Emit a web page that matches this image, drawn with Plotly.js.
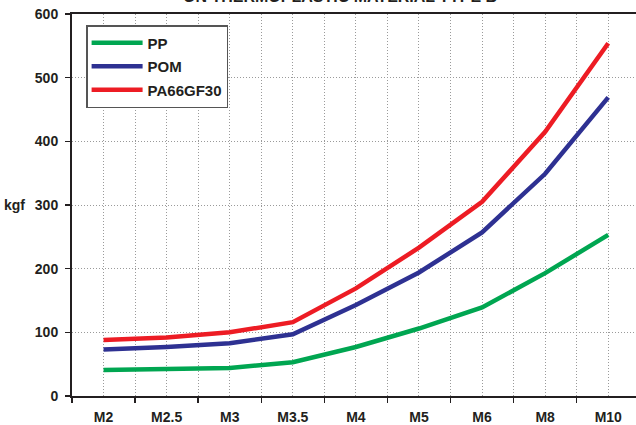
<!DOCTYPE html>
<html>
<head>
<meta charset="utf-8">
<script src="https://cdn.plot.ly/plotly-3.0.1.min.js"></script>
<style>html,body{margin:0;padding:0;background:#fff;}#chart{width:636px;height:425px;}</style>
</head>
<body>
<div id="chart"></div>
<script>
const categories = ["M2", "M2.5", "M3", "M3.5", "M4", "M5", "M6", "M8", "M10"];
const ppValues = [41, 42, 44, 53, 77, 106, 139, 193, 253];
const pomValues = [73, 77, 83, 97, 143, 194, 257, 349, 469];
const pa66Values = [88, 92, 100, 116, 169, 233, 305, 415, 554];
const yTicks = [0, 100, 200, 300, 400, 500, 600];
const chartTitle = "ON THERMOPLASTIC MATERIAL TYPE B";

const idx = categories.map((c, i) => i);
const bounds = categories.map((c, i) => i - 0.5);
const font = {family: "Liberation Sans, Arial, sans-serif", size: 14, color: "#231f20"};

function tr(name, vals, color, g) {
  return {x: idx, y: vals, name: name, type: "scatter", mode: "lines",
    line: {color: color, width: 4.5}, legendgroup: g,
    hovertemplate: "%{text}: %{y}<extra>" + name + "</extra>", text: categories};
}

const data = [
  tr("PP", ppValues, "#00a651", "a"),
  tr("POM", pomValues, "#2e3192", "b"),
  tr("PA66GF30", pa66Values, "#ed1c24", "c")
];

const gridStyle = {gridcolor: "#9a9a9a", griddash: "1px,2px", gridwidth: 1};

const layout = {
  width: 636, height: 425,
  margin: {l: 72, r: 0, t: 14, b: 29},
  paper_bgcolor: "#fff", plot_bgcolor: "#fff",
  font: font,
  showlegend: true,
  legend: {x: 0.025, y: 0.971, xanchor: "left", yanchor: "top", bgcolor: "#fff",
    bordercolor: "#555", borderwidth: 1.5, font: {family: font.family, size: 15, color: "#231f20", weight: "bold"},
    traceorder: "grouped", tracegroupgap: 1, itemwidth: 50},
  xaxis: Object.assign({
    type: "linear", range: [-0.5, 8.44], tickmode: "array", tickvals: idx,
    ticktext: categories.map(c => "<b>" + c + "</b>"), ticks: "", showgrid: true,
    minor: Object.assign({tickmode: "array", tickvals: bounds, ticks: "outside", ticklen: 5, tickwidth: 1.5, tickcolor: "#231f20",
      showgrid: true}, gridStyle),
    showline: true, linecolor: "#231f20", linewidth: 2, mirror: true, zeroline: false,
    ticklabelstandoff: 7, fixedrange: true
  }, gridStyle),
  yaxis: Object.assign({
    range: [0, 600], tickmode: "array", tickvals: yTicks, ticktext: yTicks.map(v => "<b>" + v + "</b>"),
    ticks: "outside", ticklen: 5, tickwidth: 1.5, tickcolor: "#231f20",
    showgrid: true,
    showline: true, linecolor: "#231f20", linewidth: 2, zeroline: false, fixedrange: true,
    ticklabelstandoff: 4
  }, gridStyle),
  annotations: [
    {text: "<b>kgf</b>", xref: "paper", yref: "y", x: -0.079, y: 300, xanchor: "right",
      yanchor: "middle", showarrow: false, font: {family: font.family, size: 14, color: "#231f20"}},
    {text: "<b>" + chartTitle + "</b>", xref: "paper", yref: "paper", x: (340 - 72) / 564, y: 1,
      xanchor: "center", yanchor: "bottom", yshift: 7, showarrow: false,
      font: {family: font.family, size: 16, color: "#231f20"}}
  ]
};

Plotly.newPlot("chart", data, layout, {displayModeBar: false, staticPlot: true}).then(function (gd) {
  gd.querySelectorAll(".legend .legendlines path").forEach(function (p) {
    p.setAttribute("d", "M4,0h51");
  });
});
</script>
</body>
</html>
